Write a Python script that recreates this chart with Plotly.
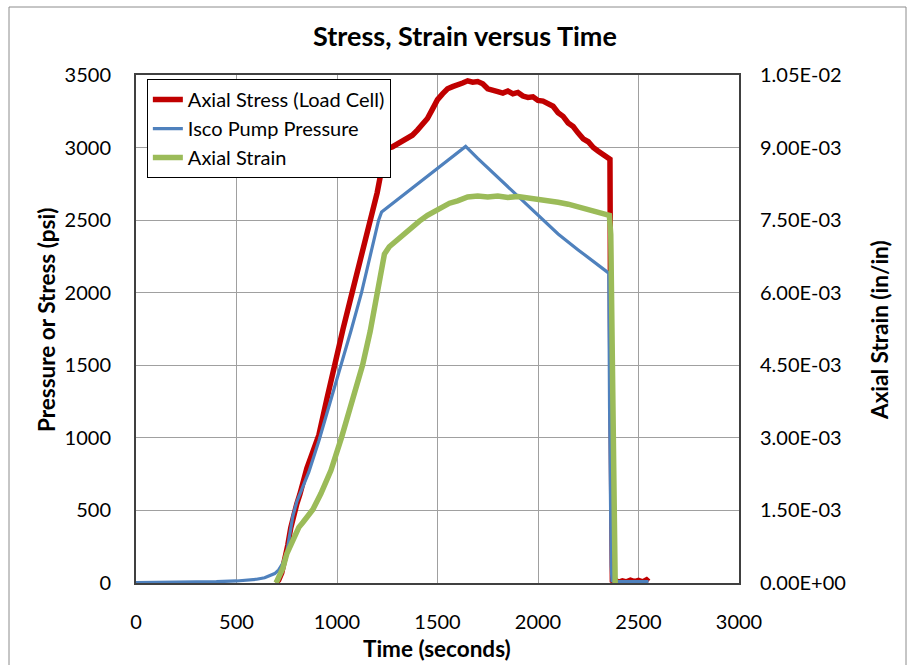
import plotly.graph_objects as go

# Axial stress from the load cell (psi)
stress_t = [697, 710, 725, 740, 755, 770, 785, 800, 815, 830, 850, 875, 910, 950, 985,
            1030, 1075, 1120, 1170, 1200, 1220, 1240, 1250, 1275, 1300,
            1325, 1350, 1375, 1400, 1425, 1450, 1475, 1500, 1525, 1550, 1575, 1600, 1625, 1650,
            1675, 1700, 1725, 1750, 1775, 1800, 1825, 1850, 1875, 1900, 1925, 1950, 1975, 2000,
            2025, 2050, 2075, 2100, 2125, 2150, 2175, 2200, 2225, 2250, 2275, 2300, 2325, 2350,
            2358, 2361, 2364, 2367, 2370, 2385, 2400, 2420, 2440, 2460, 2480, 2500, 2520, 2540, 2550]
stress_psi = [0, 20, 70, 150, 260, 380, 480, 545, 610, 690, 790, 885, 1020, 1270, 1500,
              1750, 2000, 2240, 2500, 2690, 2835, 2960, 2995, 3005, 3025,
              3040, 3060, 3085, 3120, 3165, 3200, 3265, 3330, 3370, 3405, 3420, 3430, 3445, 3460,
              3450, 3455, 3440, 3405, 3390, 3385, 3375, 3390, 3370, 3380, 3355, 3345, 3350, 3325,
              3320, 3300, 3285, 3240, 3215, 3170, 3145, 3100, 3060, 3040, 3000, 2975, 2950, 2930,
              2920, 1800, 700, 150, 5, 20, 5, 15, 8, 20, 10, 18, 8, 22, 10]

# Isco pump pressure (psi)
pump_t = [0, 100, 200, 300, 400, 500, 550, 600, 640, 670, 690, 710, 730, 750, 765, 780, 800,
          830, 860, 910, 960, 1022, 1070, 1122, 1170, 1207, 1222, 1300, 1400, 1500, 1600, 1640,
          1700, 1800, 1900, 2000, 2100, 2200, 2300, 2352, 2356, 2360, 2364, 2368, 2380, 2450, 2550]
pump_psi = [3, 4, 5, 6, 9, 14, 18, 26, 36, 50, 65, 90, 135, 210, 330, 460, 560,
            660, 765, 980, 1220, 1500, 1740, 2000, 2280, 2500, 2557, 2641, 2749, 2857, 2965, 3008,
            2925, 2795, 2665, 2530, 2405, 2295, 2190, 2135, 1200, 450, 120, 15, 10, 10, 10]

# Axial strain (in/in)
strain_t = [697, 710, 730, 750, 770, 790, 810, 830, 850, 880, 920, 970, 1022, 1075, 1127,
            1165, 1200, 1218, 1236, 1260, 1290, 1320, 1370, 1410, 1450,
            1485, 1520, 1560, 1600, 1650, 1700, 1750, 1800, 1850, 1900, 1950, 2000, 2050, 2100,
            2150, 2200, 2250, 2300, 2340, 2355, 2362, 2368, 2374, 2379, 2384]
strain = [0, 0.0001, 0.0003, 0.0006, 0.0008, 0.00100, 0.00115, 0.00125, 0.00135, 0.00152,
          0.00185, 0.00233, 0.00300, 0.00375, 0.00450, 0.00520, 0.00600, 0.00654, 0.00680,
          0.00695, 0.00706, 0.00716, 0.00736, 0.00748, 0.00760,
          0.00768, 0.00777, 0.00785, 0.00790, 0.00798, 0.00800, 0.00798, 0.00800, 0.00797, 0.00799,
          0.00796, 0.00795, 0.00791, 0.00787, 0.00783, 0.00778, 0.00773, 0.00768, 0.00764, 0.00760,
          0.0072, 0.0045, 0.0020, 0.0008, 0]

time_ticks = [0, 500, 1000, 1500, 2000, 2500, 3000]
psi_ticks = [0, 500, 1000, 1500, 2000, 2500, 3000, 3500]
strain_ticks = [0, 0.0015, 0.003, 0.0045, 0.006, 0.0075, 0.009, 0.0105]
strain_labels = [f"{v:.2E}" for v in strain_ticks]

FONT = "Lato"
RED, BLUE, GREEN = "#C00000", "#4F81BD", "#9BBB59"

# plot-area geometry in pixels, used to place the axis titles
L, R, T, B = 136, 739, 75, 583


def px(x):
    return (x - L) / (R - L)


def py(y):
    return (B - y) / (B - T)


fig = go.Figure()
fig.add_trace(go.Scatter(x=stress_t, y=stress_psi, mode="lines", name="Axial Stress (Load Cell)",
                         line=dict(color=RED, width=5.5)))
fig.add_trace(go.Scatter(x=pump_t, y=pump_psi, mode="lines", name="Isco Pump Pressure",
                         line=dict(color=BLUE, width=3.2)))
fig.add_trace(go.Scatter(x=strain_t, y=strain, mode="lines", name="Axial Strain",
                         line=dict(color=GREEN, width=5.5), yaxis="y2"))

axis_line = dict(showline=True, linecolor="#404040", linewidth=2, mirror=True)

fig.update_layout(
    width=908, height=665,
    margin=dict(l=L, r=908 - R, t=T, b=665 - B),
    paper_bgcolor="white", plot_bgcolor="white",
    font=dict(family=FONT, size=20, color="black"),
    title=dict(text="<b>Stress, Strain versus Time</b>", x=465 / 908, xref="container",
               xanchor="center", y=1 - 37 / 665, yref="container", yanchor="middle",
               font=dict(size=27)),
    xaxis=dict(range=[0, 3000], tickvals=time_ticks, showgrid=True, gridcolor="#a0a0a0",
               gridwidth=1, zeroline=False, ticks="", ticklabelstandoff=20, **axis_line),
    yaxis=dict(range=[0, 3500], tickvals=psi_ticks, showgrid=True, gridcolor="#a0a0a0",
               gridwidth=1, zeroline=False, ticks="", ticklabelstandoff=19, **axis_line),
    yaxis2=dict(range=[0, 0.0105], tickvals=strain_ticks, ticktext=strain_labels,
                overlaying="y", side="right", showgrid=False, zeroline=False, ticks="",
                ticklabelstandoff=20),
    legend=dict(x=0.018, y=0.992, xanchor="left", yanchor="top", bgcolor="white",
                bordercolor="black", borderwidth=1, font=dict(size=20), tracegroupgap=0),
    showlegend=True,
)

title_font = dict(size=22.5, family=FONT, color="black")
fig.add_annotation(text="<b>Time (seconds)</b>", xref="paper", yref="paper",
                   x=px(437), y=py(648), showarrow=False, font=title_font,
                   xanchor="center", yanchor="middle")
fig.add_annotation(text="<b>Pressure or Stress (psi)</b>", xref="paper", yref="paper",
                   x=px(46), y=py(320), showarrow=False, font=title_font, textangle=-90,
                   xanchor="center", yanchor="middle")
fig.add_annotation(text="<b>Axial Strain (in/in)</b>", xref="paper", yref="paper",
                   x=px(879), y=py(330), showarrow=False, font=title_font, textangle=-90,
                   xanchor="center", yanchor="middle")

# outer chart frame
fig.add_shape(type="rect", xref="paper", yref="paper",
              x0=px(9), x1=px(906), y0=py(680), y1=py(7),
              line=dict(color="#8c8c8c", width=1), layer="below")

fig.write_html("out.html")
